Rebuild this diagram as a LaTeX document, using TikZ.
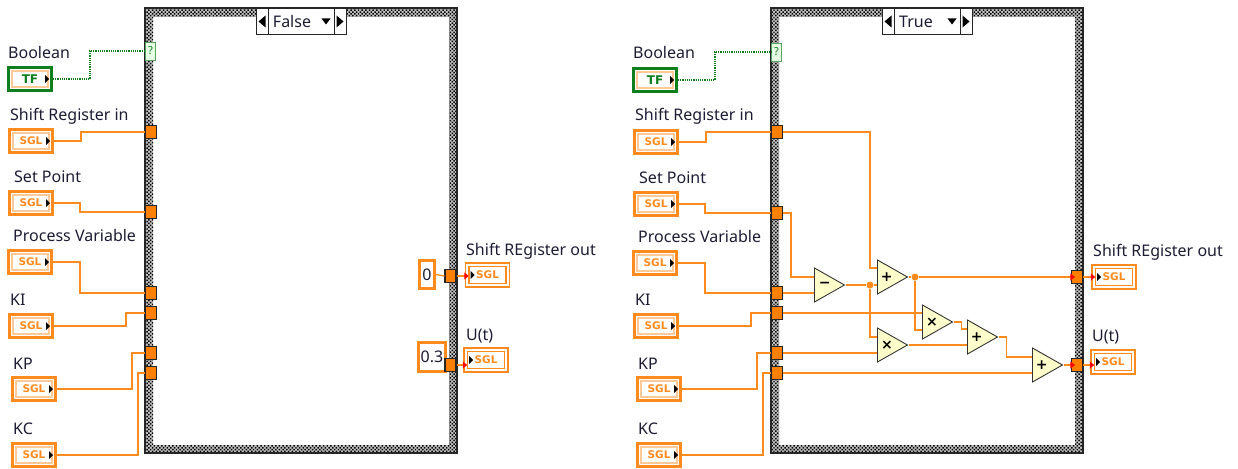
\documentclass[tikz,border=0pt]{standalone}
\usepackage{fontspec}
\setmainfont{Noto Sans}
\newfontfamily\lvbold{DejaVu Sans}
\usetikzlibrary{arrows.meta,patterns.meta,shapes.geometric}
\definecolor{lvorange}{HTML}{FF8A1E}
\definecolor{lvterm}{HTML}{FF8000}
\definecolor{lvpale}{HTML}{FFC998}
\definecolor{lvgreen}{HTML}{0F7F1E}
\definecolor{lvprim}{HTML}{FFFFCC}
\definecolor{lvtext}{HTML}{1C1C34}
\tikzset{
  lbl/.style={anchor=base west, inner sep=0pt, text=lvtext, font=\fontsize{16}{18}\selectfont},
  ctl/.style={draw=lvorange, line width=3pt, fill=white, minimum width=43pt, minimum height=23pt,
    inner sep=0pt, text=lvorange, font=\fontsize{10.5}{11}\lvbold\bfseries\selectfont,
    path picture={
      \draw[lvpale, line width=1.2pt] ([shift={(3.5pt,3.5pt)}]path picture bounding box.south west)
        rectangle ([shift={(-3.5pt,-3.5pt)}]path picture bounding box.north east);
      \fill[black] ([shift={(-6.5pt,4pt)}]path picture bounding box.east)
        -- ([shift={(-6.5pt,-4pt)}]path picture bounding box.east)
        -- ([shift={(-2.5pt,0pt)}]path picture bounding box.east) -- cycle;}},
  ctlb/.style={ctl, draw=lvgreen, text=lvgreen, font=\fontsize{12}{13}\lvbold\bfseries\selectfont},
  ind/.style={draw=lvorange, line width=1.5pt, fill=white, minimum width=44pt, minimum height=24pt,
    inner sep=0pt, text=lvorange, font=\fontsize{10.5}{11}\lvbold\bfseries\selectfont,
    path picture={
      \draw[lvorange, line width=1.2pt] ([shift={(3.5pt,3.5pt)}]path picture bounding box.south west)
        rectangle ([shift={(-3.5pt,-3.5pt)}]path picture bounding box.north east);
      \fill[black] ([shift={(5pt,4pt)}]path picture bounding box.west)
        -- ([shift={(5pt,-4pt)}]path picture bounding box.west)
        -- ([shift={(9pt,0pt)}]path picture bounding box.west) -- cycle;}},
  term/.style={draw=black!85, line width=1.1pt, fill=lvterm, minimum width=11pt, minimum height=13pt, inner sep=0pt},
  sel/.style={draw=lvgreen!70, line width=.8pt, fill=green!10, minimum width=10pt, minimum height=18pt,
    inner sep=0pt, text=lvgreen, font=\fontsize{11}{12}\selectfont},
  const/.style={draw=lvorange, line width=3pt, fill=white, inner sep=0pt, text=lvtext,
    font=\fontsize{16}{18}\selectfont},
  prim/.style={isosceles triangle, isosceles triangle stretches, anchor=lower side, draw=black!80, line width=.9pt,
    fill=lvprim, minimum width=34pt, minimum height=30pt, inner sep=0pt,
    font=\fontsize{14}{14}\lvbold\bfseries\selectfont},
  wire/.style={lvorange, line width=1.3pt},
  wireb/.style={lvgreen, line width=1.2pt, densely dotted},
  redtip/.style={wire, -{Triangle[red, length=4.5pt, width=7pt]}, shorten >=-4pt},
  frame/.style={even odd rule, fill=black!25,
    postaction={pattern={Dots[distance=2.6pt, radius=1.05pt, angle=45]}, pattern color=black}},
  frameline/.style={draw=black!85, line width=1.6pt},
  casebox/.style={draw=black!85, line width=1pt, fill=white, minimum height=26pt, inner sep=0pt,
    font=\fontsize{16}{18}\selectfont, text=lvtext},
  junc/.style={circle, fill=lvorange, inner sep=0pt, minimum size=7pt}
}
\begin{document}
\begin{tikzpicture}[x=1pt, y=-1pt]
  \useasboundingbox (0,0) rectangle (1238,468);
  % False case
  \path[frame] (145,8) rectangle (457,453) (153,17) rectangle (449,445);
  \draw[frameline] (145,8) rectangle (457,453);
  \node[casebox, minimum width=90pt] (caseF) at (301,21.5) {};
  \node[casebox, minimum width=66pt, text width=64pt, align=center] (caseFname) at (301,21.5) {False\hspace*{18pt}};
  \fill (caseF.west) ++(3,0) -- ++(7,-6) -- ++(0,12) -- cycle;
  \fill (caseF.east) ++(-3,0) -- ++(-7,-6) -- ++(0,12) -- cycle;
  \fill (caseFname.east) ++(-13,-3) -- ++(9,0) -- ++(-4.5,6) -- cycle;

  \node[lbl] (lblBool) at (8,59) {Boolean};
  \node[lbl] (lblShift) at (10,120.5) {Shift Register in};
  \node[lbl] (lblSet) at (14,182.5) {Set Point};
  \node[lbl] (lblPV) at (13,241) {Process Variable};
  \node[lbl] (lblKI) at (10,305) {KI};
  \node[lbl] (lblKP) at (13,369) {KP};
  \node[lbl] (lblKC) at (13,434) {KC};
  \node[lbl] (lblOut) at (466,255) {Shift REgister out};
  \node[lbl] (lblU) at (466,340.5) {U(t)};

  \node[ctlb] (bool) at (30,79) {TF};
  \node[ctl] (shift) at (31,141) {SGL};
  \node[ctl] (set) at (31,203) {SGL};
  \node[ctl] (pv) at (30,262) {SGL};
  \node[ctl] (ki) at (31,326) {SGL};
  \node[ctl] (kp) at (34,389) {SGL};
  \node[ctl] (kc) at (34,455) {SGL};
  \node[ind] (out) at (487.5,275) {SGL};
  \node[ind] (u) at (486,360) {SGL};

  \node[sel] (q) at (150.5,51) {?};
  \node[term] (tShift) at (151,132) {};
  \node[term] (tSet) at (151,212) {};
  \node[term] (tPV) at (151,293) {};
  \node[term] (tKI) at (151,313) {};
  \node[term] (tKP) at (151,353) {};
  \node[term] (tKC) at (151,373) {};
  \node[const, minimum width=15pt, minimum height=28pt] (zero) at (427,274.5) {0};
  \node[const, minimum width=27pt, minimum height=29pt] (gain) at (432,357) {0.3};
  \node[term] (tOut) at (450.5,276) {};
  \node[term] (tU) at (450.5,365) {};

  \draw[wireb] (bool.east) -- ++(37,0) |- (q.west);
  \draw[wire] (shift.east) -- ++(27,0) |- (tShift.west);
  \draw[wire] (set.east) -- ++(26,0) |- (tSet.west);
  \draw[wire] (pv.east) -- ++(27,0) |- (tPV.west);
  \draw[wire] (ki.east) -- ++(72,0) |- (tKI.west);
  \draw[wire] (kp.east) -- ++(75,0) |- (tKP.west);
  \draw[wire] (kc.east) -- ++(81,0) |- (tKC.west);
  \draw[wire] (zero.east) -- (tOut.west);
  \draw[redtip] (tOut.east) -- (tOut.east -| out.west);
  \draw[redtip] (tU.east) -- (tU.east -| u.west);

  % True case
  \path[frame] (771,8) rectangle (1083,453) (779,17) rectangle (1075,445);
  \draw[frameline] (771,8) rectangle (1083,453);
  \node[casebox, minimum width=90pt] (caseT) at (927,21.5) {};
  \node[casebox, minimum width=66pt, text width=64pt, align=center] (caseTname) at (927,21.5) {True\hspace*{22pt}};
  \fill (caseT.west) ++(3,0) -- ++(7,-6) -- ++(0,12) -- cycle;
  \fill (caseT.east) ++(-3,0) -- ++(-7,-6) -- ++(0,12) -- cycle;
  \fill (caseTname.east) ++(-13,-3) -- ++(9,0) -- ++(-4.5,6) -- cycle;

  \node[lbl] (lblBool2) at (633,59) {Boolean};
  \node[lbl] (lblShift2) at (635,121) {Shift Register in};
  \node[lbl] (lblSet2) at (639,183) {Set Point};
  \node[lbl] (lblPV2) at (638,242) {Process Variable};
  \node[lbl] (lblKI2) at (635,305) {KI};
  \node[lbl] (lblKP2) at (638,369) {KP};
  \node[lbl] (lblKC2) at (638,434) {KC};
  \node[lbl] (lblOut2) at (1093,256) {Shift REgister out};
  \node[lbl] (lblU2) at (1092,341) {U(t)};

  \node[ctlb] (bool2) at (655,80) {TF};
  \node[ctl] (shift2) at (656,142) {SGL};
  \node[ctl] (set2) at (656,204) {SGL};
  \node[ctl] (pv2) at (655,263) {SGL};
  \node[ctl] (ki2) at (656,326) {SGL};
  \node[ctl] (kp2) at (659,389) {SGL};
  \node[ctl] (kc2) at (659,455) {SGL};
  \node[ind] (out2) at (1114,277) {SGL};
  \node[ind] (u2) at (1113,362) {SGL};

  \node[sel] (q2) at (776.5,52) {?};
  \node[term] (tShift2) at (777,132) {};
  \node[term] (tSet2) at (777,213) {};
  \node[term] (tPV2) at (777,293) {};
  \node[term] (tKI2) at (777,313) {};
  \node[term] (tKP2) at (777,353) {};
  \node[term] (tKC2) at (777,373) {};
  \node[term] (tOut2) at (1077,277) {};
  \node[term] (tU2) at (1077,365) {};

  \node[prim] (minus) at (814,285) {−};
  \node[prim] (add1) at (877,277) {+};
  \node[prim] (mul1) at (922,322) {×};
  \node[prim] (mul2) at (877,345) {×};
  \node[prim] (add2) at (967,337) {+};
  \node[prim] (add3) at (1032,365) {+};
  \node[junc] (dotA) at (870,285) {};
  \node[junc] (dotB) at (915,277) {};

  \draw[wireb] (bool2.east) -- ++(37,0) |- (q2.west);
  \draw[wire] (shift2.east) -- ++(27,0) |- (tShift2.west);
  \draw[wire] (set2.east) -- ++(26,0) |- (tSet2.west);
  \draw[wire] (pv2.east) -- ++(27,0) |- (tPV2.west);
  \draw[wire] (ki2.east) -- ++(72,0) |- (tKI2.west);
  \draw[wire] (kp2.east) -- ++(75,0) |- (tKP2.west);
  \draw[wire] (kc2.east) -- ++(81,0) |- (tKC2.west);

  \draw[wire] (tShift2.east) -- (870,132) |- ([yshift=9pt]add1.lower side);
  \draw[wire] (tSet2.east) -- (791,213) |- ([yshift=8pt]minus.lower side);
  \draw[wire] (tPV2.east) -- ([yshift=-8pt]minus.lower side);
  \draw[wire] (minus.apex) -- (dotA) -- ([yshift=-8pt]add1.lower side);
  \draw[wire] (dotA) |- ([yshift=8pt]mul2.lower side);
  \draw[wire] (tKI2.east) -- ([yshift=9pt]mul1.lower side);
  \draw[wire] (add1.apex) -- (dotB);
  \draw[redtip] (dotB) -- (tOut2.west);
  \draw[wire] (dotB) |- ([yshift=-8pt]mul1.lower side);
  \draw[wire] (tKP2.east) -- ([yshift=-8pt]mul2.lower side);
  \draw[wire] (mul2.apex) -- ([yshift=-8pt]add2.lower side);
  \draw[wire] (mul1.apex) -- ++(8,0) |- ([yshift=8pt]add2.lower side);
  \draw[wire] (add2.apex) -- ++(8,0) |- ([yshift=8pt]add3.lower side);
  \draw[wire] (tKC2.east) -- ([yshift=-8pt]add3.lower side);
  \draw[redtip] (add3.apex) -- (tU2.west);
  \draw[redtip] (tOut2.east) -- (tOut2.east -| out2.west);
  \draw[redtip] (tU2.east) -- (tU2.east -| u2.west);
\end{tikzpicture}
\end{document}
